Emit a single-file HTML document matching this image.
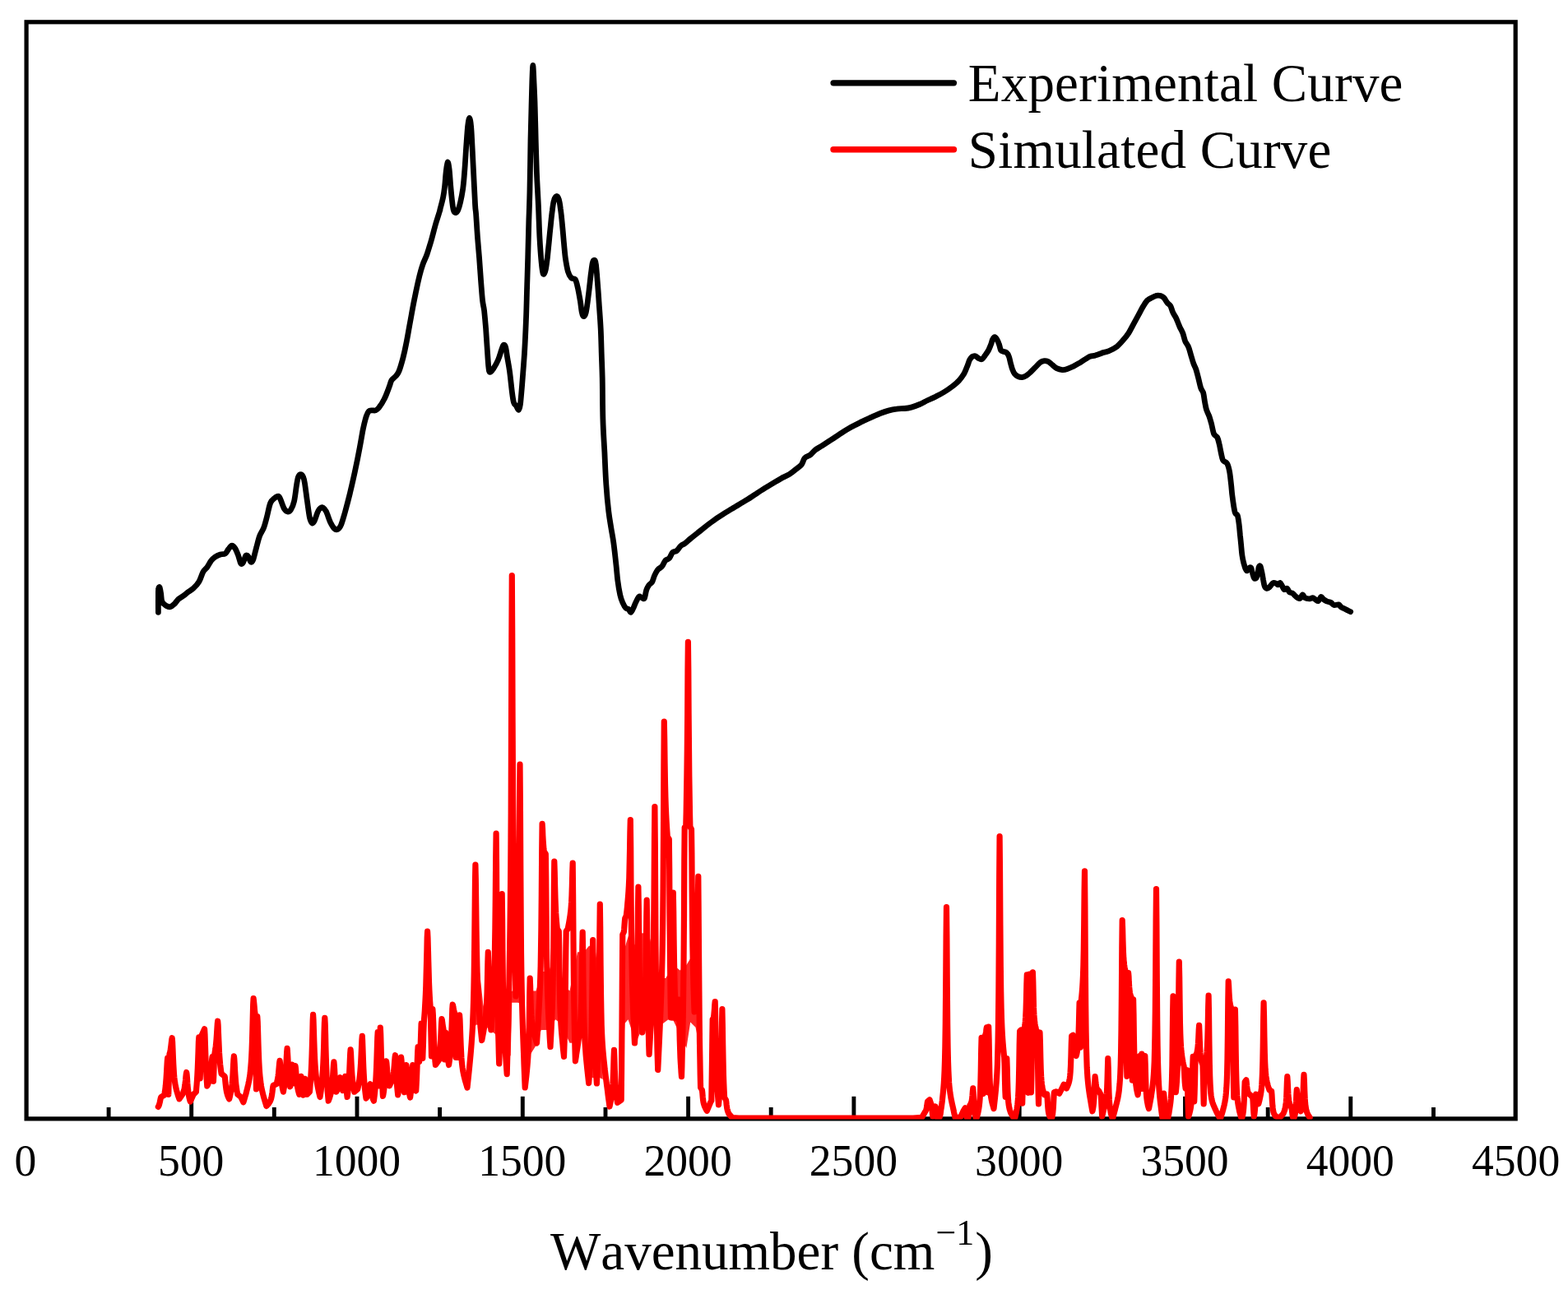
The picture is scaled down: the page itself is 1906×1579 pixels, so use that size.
<!DOCTYPE html>
<html lang="en"><head><meta charset="utf-8"><title>Experimental and simulated spectra</title>
<style>
html,body{margin:0;padding:0;background:#fff;}
body{width:1906px;height:1579px;overflow:hidden;}
svg{display:block;}
text{font-family:"Liberation Serif","Times New Roman",serif;fill:#000;font-kerning:none;}
.tick text{font-size:55.5px;text-anchor:middle;}
.leg text{font-size:65px;letter-spacing:0.2px;}
</style></head><body>
<svg xmlns="http://www.w3.org/2000/svg" width="1906" height="1579" viewBox="0 0 1906 1579">
<rect x="0" y="0" width="1906" height="1579" fill="#fff"/>
<rect x="32.1" y="26.8" width="1810.1" height="1333.1" fill="none" stroke="#000" stroke-width="5.2"/>
<g stroke="#000" stroke-width="4.9" stroke-linecap="butt"><line x1="132.1" y1="1346.0" x2="132.1" y2="1359.9"/><line x1="232.7" y1="1332.8" x2="232.7" y2="1359.9"/><line x1="333.3" y1="1346.0" x2="333.3" y2="1359.9"/><line x1="434.0" y1="1332.8" x2="434.0" y2="1359.9"/><line x1="534.6" y1="1346.0" x2="534.6" y2="1359.9"/><line x1="635.3" y1="1332.8" x2="635.3" y2="1359.9"/><line x1="736.0" y1="1346.0" x2="736.0" y2="1359.9"/><line x1="836.6" y1="1332.8" x2="836.6" y2="1359.9"/><line x1="937.2" y1="1346.0" x2="937.2" y2="1359.9"/><line x1="1037.9" y1="1332.8" x2="1037.9" y2="1359.9"/><line x1="1138.6" y1="1346.0" x2="1138.6" y2="1359.9"/><line x1="1239.2" y1="1332.8" x2="1239.2" y2="1359.9"/><line x1="1339.9" y1="1346.0" x2="1339.9" y2="1359.9"/><line x1="1440.5" y1="1332.8" x2="1440.5" y2="1359.9"/><line x1="1541.2" y1="1346.0" x2="1541.2" y2="1359.9"/><line x1="1641.8" y1="1332.8" x2="1641.8" y2="1359.9"/><line x1="1742.5" y1="1346.0" x2="1742.5" y2="1359.9"/></g>
<path d="M192.4 744.3C192.4 741.4 192.3 732.0 192.4 727.3C192.4 722.6 192.3 718.6 192.6 716.3C192.8 714.1 193.5 712.9 194.0 713.7C194.5 714.6 195.1 718.4 195.6 721.3C196.1 724.2 195.9 728.8 197.0 731.3C198.0 733.8 200.3 735.2 201.9 736.3C203.6 737.3 205.3 738.0 206.9 737.7C208.6 737.3 210.3 735.8 211.9 734.3C213.6 732.7 215.1 730.0 216.9 728.3C218.7 726.6 221.1 725.6 222.9 724.3C224.7 723.0 225.9 721.8 227.9 720.3C229.9 718.8 232.5 717.5 234.9 715.3C237.2 713.2 239.8 710.7 241.8 707.3C243.8 704.0 245.2 698.4 246.8 695.4C248.5 692.4 250.1 691.7 251.8 689.4C253.5 687.1 255.1 683.5 256.8 681.4C258.5 679.3 260.0 678.1 261.8 676.8C263.6 675.6 265.8 674.7 267.8 674.0C269.8 673.4 272.1 674.1 273.8 673.0C275.4 671.9 276.4 669.1 277.7 667.5C279.1 665.8 280.4 663.2 281.7 663.1C283.1 662.9 284.4 664.4 285.7 666.5C287.1 668.5 288.5 672.3 289.7 675.4C290.9 678.5 291.7 683.7 292.7 685.0C293.7 686.3 294.7 685.0 295.7 683.4C296.7 681.8 297.7 676.6 298.7 675.4C299.7 674.3 300.7 675.2 301.7 676.4C302.7 677.7 303.7 682.3 304.7 683.0C305.7 683.7 306.5 683.3 307.7 680.4C308.8 677.5 310.3 670.3 311.7 665.5C313.0 660.6 314.1 655.5 315.6 651.5C317.1 647.5 319.1 645.5 320.6 641.5C322.1 637.5 323.3 632.5 324.6 627.6C325.9 622.6 327.1 615.3 328.6 611.6C330.1 607.9 331.9 607.0 333.6 605.6C335.3 604.2 337.3 602.7 338.6 603.2C339.9 603.7 340.4 606.0 341.6 608.6C342.7 611.2 344.2 616.4 345.6 618.6C346.9 620.8 348.2 621.8 349.6 622.0C350.9 622.1 352.2 621.6 353.5 619.6C354.9 617.5 356.4 614.6 357.5 609.6C358.7 604.6 359.7 594.6 360.5 589.7C361.4 584.7 361.7 581.8 362.5 579.7C363.4 577.5 364.5 576.7 365.5 576.7C366.5 576.7 367.7 577.9 368.5 579.7C369.3 581.5 369.7 582.7 370.5 587.7C371.3 592.7 372.5 602.6 373.5 609.6C374.5 616.6 375.5 625.2 376.5 629.6C377.5 633.9 378.5 635.4 379.5 635.9C380.5 636.4 381.3 634.9 382.5 632.5C383.6 630.2 385.3 624.1 386.5 621.6C387.6 619.1 388.5 618.3 389.4 617.6C390.4 616.8 391.3 616.3 392.4 617.0C393.6 617.7 394.9 618.6 396.4 621.6C397.9 624.5 399.8 631.0 401.4 634.5C403.1 638.0 404.9 641.0 406.4 642.5C407.9 644.0 409.1 644.2 410.4 643.5C411.7 642.9 412.9 642.0 414.4 638.5C415.9 635.0 417.5 629.1 419.4 622.6C421.2 616.1 423.4 607.8 425.4 599.6C427.3 591.5 429.3 583.0 431.3 573.7C433.3 564.4 435.7 552.4 437.3 543.8C439.0 535.1 440.0 528.2 441.3 521.8C442.6 515.5 444.1 509.5 445.3 505.9C446.5 502.2 447.1 501.1 448.3 499.9C449.5 498.7 451.0 499.1 452.3 498.9C453.6 498.7 454.9 499.4 456.3 498.9C457.6 498.4 458.4 498.2 460.3 495.9C462.1 493.6 465.1 489.3 467.2 484.9C469.4 480.6 471.8 473.7 473.2 470.0C474.7 466.2 474.6 464.5 475.9 462.4C477.2 460.3 479.4 459.2 480.9 457.4C482.4 455.6 483.4 455.1 484.9 451.4C486.4 447.8 488.3 441.1 489.8 435.5C491.3 429.8 492.5 424.2 493.8 417.5C495.2 410.9 496.5 402.9 497.8 395.6C499.2 388.3 500.5 380.6 501.8 373.6C503.1 366.6 504.5 360.0 505.8 353.7C507.1 347.4 508.5 341.0 509.8 335.7C511.1 330.4 512.3 326.1 513.8 321.8C515.3 317.4 517.1 314.4 518.8 309.8C520.4 305.1 521.9 300.1 523.8 293.8C525.6 287.5 527.9 278.2 529.7 271.9C531.6 265.6 533.9 258.7 534.7 255.9C535.6 253.2 534.1 258.2 534.7 255.5C535.4 252.7 537.7 244.5 538.7 239.5C539.7 234.5 540.1 230.5 540.7 225.5C541.3 220.6 541.5 214.3 542.1 209.6C542.7 204.9 543.4 197.9 544.1 197.2C544.8 196.5 545.5 200.9 546.1 205.6C546.7 210.3 547.1 218.9 547.7 225.5C548.3 232.2 549.1 240.5 549.7 245.5C550.3 250.5 550.6 253.3 551.3 255.5C551.9 257.6 552.8 258.5 553.7 258.5C554.6 258.5 555.7 257.6 556.7 255.5C557.7 253.3 558.7 249.8 559.7 245.5C560.7 241.2 561.8 235.5 562.7 229.5C563.5 223.5 564.0 217.9 564.6 209.6C565.3 201.3 566.0 189.0 566.6 179.7C567.3 170.3 568.0 159.8 568.6 153.7C569.3 147.7 570.0 143.4 570.6 143.4C571.3 143.4 572.1 148.0 572.6 153.7C573.2 159.4 573.5 168.4 574.0 177.7C574.5 187.0 575.0 197.6 575.6 209.6C576.2 221.5 577.1 241.1 577.6 249.5C578.1 257.9 578.1 253.2 578.6 259.9C579.1 266.6 579.9 280.9 580.6 289.8C581.3 298.8 581.9 305.1 582.6 313.8C583.3 322.4 583.9 333.1 584.6 341.7C585.3 350.3 585.9 359.7 586.6 365.6C587.3 371.6 587.9 372.0 588.6 377.6C589.2 383.3 589.9 390.9 590.6 399.6C591.2 408.2 592.0 421.5 592.6 429.5C593.1 437.5 593.5 443.6 594.0 447.4C594.5 451.3 594.6 452.2 595.6 452.4C596.5 452.6 597.9 450.9 599.6 448.4C601.2 445.9 603.9 441.3 605.5 437.5C607.2 433.6 608.5 428.5 609.5 425.5C610.6 422.5 611.1 420.2 611.9 419.5C612.8 418.8 613.7 419.2 614.5 421.5C615.3 423.8 615.7 428.5 616.5 433.5C617.3 438.5 618.5 444.1 619.5 451.4C620.5 458.7 621.7 471.0 622.5 477.3C623.3 483.7 623.7 486.7 624.5 489.3C625.3 492.0 626.5 491.8 627.5 493.3C628.5 494.8 629.6 498.6 630.5 498.3C631.3 498.0 631.8 496.1 632.5 491.3C633.1 486.5 633.6 479.7 634.5 469.4C635.3 459.1 636.6 442.8 637.5 429.5C638.3 416.2 638.9 402.9 639.4 389.6C640.0 376.3 640.2 363.0 640.6 349.7C641.0 336.4 641.5 323.1 641.8 309.8C642.2 296.5 642.5 283.2 642.8 269.9C643.2 256.6 643.7 246.7 644.0 230.0C644.4 213.3 644.7 186.4 645.0 169.7C645.4 153.0 645.7 141.4 646.0 129.8C646.3 118.2 646.5 108.2 646.8 99.9C647.1 91.5 647.5 79.5 647.8 79.5C648.2 79.5 648.6 91.5 649.0 99.9C649.4 108.2 649.9 118.2 650.2 129.8C650.6 141.4 650.9 156.4 651.2 169.7C651.6 183.0 651.9 196.3 652.4 209.6C652.9 222.9 653.8 236.2 654.4 249.5C655.0 262.8 655.4 278.4 656.0 289.4C656.6 300.3 657.2 308.7 657.8 315.3C658.4 322.0 658.9 326.3 659.4 329.3C659.9 332.3 660.3 333.6 661.0 333.3C661.7 332.9 662.7 330.6 663.4 327.3C664.1 323.9 664.7 319.0 665.4 313.3C666.0 307.7 666.7 300.0 667.4 293.4C668.0 286.7 668.7 279.7 669.4 273.4C670.0 267.1 670.7 260.4 671.4 255.5C672.0 250.5 672.5 246.3 673.4 243.5C674.2 240.7 675.4 238.7 676.4 238.5C677.3 238.3 678.5 240.0 679.3 242.5C680.2 245.0 680.7 248.6 681.3 253.5C682.0 258.3 682.7 264.7 683.3 271.4C684.0 278.1 684.7 286.8 685.3 293.8C686.0 300.9 686.5 307.8 687.3 313.8C688.2 319.8 689.2 325.7 690.3 329.7C691.5 333.7 692.8 336.1 694.3 337.7C695.8 339.4 698.0 337.7 699.3 339.7C700.6 341.7 701.3 345.4 702.3 349.7C703.3 354.0 704.4 360.7 705.3 365.6C706.1 370.6 706.6 376.4 707.3 379.6C707.9 382.8 708.4 384.6 709.3 384.6C710.1 384.6 711.3 383.8 712.3 379.6C713.3 375.5 714.3 367.3 715.2 359.7C716.2 352.0 717.4 340.4 718.2 333.7C719.1 327.1 719.6 322.7 720.2 319.8C720.9 316.8 721.6 316.2 722.2 316.2C722.9 316.2 723.6 315.5 724.2 319.8C724.9 324.0 725.6 333.4 726.2 341.7C726.9 350.0 727.6 360.0 728.2 369.6C728.9 379.3 729.7 389.6 730.2 399.6C730.7 409.5 730.9 419.5 731.2 429.5C731.5 439.4 731.9 446.0 732.2 459.4C732.5 472.8 732.4 494.8 732.9 509.9C733.3 525.0 734.2 536.5 734.9 549.8C735.5 563.1 736.0 577.7 736.9 589.7C737.7 601.7 738.8 613.0 739.8 621.6C740.8 630.2 741.8 635.2 742.8 641.5C743.8 647.9 744.8 652.2 745.8 659.5C746.8 666.8 748.0 677.8 748.8 685.4C749.7 693.1 750.0 699.1 750.8 705.4C751.6 711.7 752.8 718.8 753.8 723.3C754.8 727.8 755.6 729.7 756.8 732.3C758.0 735.0 759.6 738.0 760.8 739.3C762.0 740.6 762.8 739.5 763.8 740.3C764.8 741.1 765.8 744.4 766.8 744.3C767.8 744.1 768.8 741.3 769.8 739.3C770.8 737.3 771.6 734.6 772.8 732.3C773.9 730.0 775.6 726.3 776.7 725.3C777.9 724.3 778.6 726.0 779.7 726.3C780.8 726.7 782.3 728.8 783.3 727.3C784.3 725.8 784.8 720.0 785.7 717.3C786.6 714.7 787.6 713.0 788.7 711.4C789.9 709.7 791.5 709.4 792.7 707.4C793.9 705.4 794.5 701.9 795.7 699.4C796.9 696.9 798.2 694.2 799.7 692.4C801.2 690.6 803.2 690.3 804.7 688.4C806.2 686.6 807.2 683.1 808.7 681.4C810.2 679.8 812.2 680.1 813.6 678.5C815.1 676.8 816.1 673.0 817.6 671.5C819.1 670.0 821.0 670.8 822.6 669.5C824.3 668.1 825.9 665.0 827.6 663.5C829.3 662.0 830.6 662.0 832.6 660.5C834.6 659.0 836.8 656.8 839.6 654.5C842.4 652.2 846.2 649.2 849.6 646.5C852.9 643.9 856.2 641.1 859.5 638.6C862.9 636.0 866.2 633.5 869.5 631.2C872.8 628.8 876.2 626.7 879.5 624.6C882.8 622.5 886.1 620.6 889.4 618.6C892.8 616.6 896.1 614.6 899.4 612.6C902.7 610.6 906.1 608.7 909.4 606.6C912.7 604.5 916.0 602.2 919.4 600.1C922.7 597.9 926.0 595.7 929.3 593.7C932.7 591.6 936.0 589.7 939.3 587.7C942.6 585.7 946.0 583.5 949.3 581.7C952.6 579.9 956.3 578.5 959.3 576.7C962.3 574.9 964.8 572.7 967.2 570.7C969.7 568.7 972.4 567.1 974.2 564.8C976.1 562.4 976.4 558.8 978.2 556.8C980.0 554.8 983.0 554.4 985.2 552.8C987.4 551.1 988.9 548.6 991.2 546.8C993.5 545.0 996.2 543.7 999.2 541.8C1002.2 539.9 1005.8 537.6 1009.1 535.4C1012.5 533.3 1015.8 531.0 1019.1 528.8C1022.4 526.7 1025.8 524.3 1029.1 522.3C1032.4 520.3 1037.2 517.8 1039.1 516.9C1040.9 515.9 1038.2 517.3 1040.0 516.4C1041.8 515.5 1046.6 513.0 1050.0 511.4C1053.3 509.8 1056.6 508.4 1059.9 506.9C1063.3 505.4 1066.6 503.8 1069.9 502.5C1073.2 501.2 1076.6 500.0 1079.9 499.1C1083.2 498.2 1086.5 497.5 1089.9 497.1C1093.2 496.6 1096.9 496.8 1099.8 496.5C1102.8 496.2 1104.8 495.9 1107.8 495.1C1110.8 494.3 1114.5 492.9 1117.8 491.5C1121.1 490.1 1124.4 488.1 1127.8 486.5C1131.1 484.9 1134.4 483.6 1137.7 481.9C1141.1 480.3 1144.4 478.6 1147.7 476.5C1151.0 474.5 1154.7 471.9 1157.7 469.6C1160.7 467.2 1163.3 465.1 1165.7 462.6C1168.0 460.1 1170.0 457.4 1171.7 454.6C1173.3 451.8 1174.5 448.4 1175.6 445.6C1176.8 442.8 1177.6 439.6 1178.6 437.6C1179.6 435.6 1180.5 434.5 1181.6 433.6C1182.8 432.8 1184.3 432.3 1185.6 432.7C1186.9 433.0 1188.3 435.0 1189.6 435.6C1190.9 436.3 1192.3 437.3 1193.6 436.6C1194.9 436.0 1196.3 433.5 1197.6 431.7C1198.9 429.8 1200.4 427.8 1201.6 425.7C1202.7 423.5 1203.7 420.8 1204.6 418.7C1205.4 416.5 1205.8 414.2 1206.6 412.7C1207.3 411.2 1208.3 409.7 1209.2 409.7C1210.1 409.7 1211.0 411.2 1211.9 412.7C1212.8 414.2 1213.8 416.5 1214.5 418.7C1215.3 420.8 1215.7 424.2 1216.5 425.7C1217.4 427.1 1218.4 426.8 1219.5 427.3C1220.7 427.8 1222.4 427.6 1223.5 428.7C1224.7 429.7 1225.7 431.5 1226.5 433.6C1227.3 435.8 1227.8 439.1 1228.5 441.6C1229.2 444.1 1229.7 446.4 1230.5 448.6C1231.3 450.8 1232.3 453.1 1233.5 454.6C1234.7 456.1 1236.0 456.9 1237.5 457.6C1239.0 458.3 1240.8 458.7 1242.5 458.6C1244.1 458.4 1245.8 457.6 1247.5 456.6C1249.1 455.6 1250.6 454.3 1252.4 452.6C1254.3 450.9 1256.4 448.6 1258.4 446.6C1260.4 444.6 1262.6 442.0 1264.4 440.6C1266.2 439.3 1267.7 438.8 1269.4 438.6C1271.1 438.5 1272.7 438.8 1274.4 439.6C1276.0 440.5 1277.7 442.3 1279.4 443.6C1281.0 445.0 1282.4 446.6 1284.4 447.6C1286.4 448.6 1289.2 449.4 1291.3 449.6C1293.5 449.8 1295.2 449.3 1297.3 448.6C1299.5 447.9 1302.0 446.8 1304.3 445.6C1306.6 444.5 1308.8 443.1 1311.3 441.6C1313.8 440.1 1316.9 438.0 1319.3 436.6C1321.6 435.2 1323.3 434.0 1325.2 433.2C1327.2 432.5 1328.9 432.7 1331.2 432.1C1333.6 431.4 1337.8 429.8 1339.2 429.3C1340.7 428.7 1338.5 429.2 1340.0 428.7C1341.5 428.3 1345.2 427.9 1348.0 426.7C1350.8 425.6 1354.1 423.9 1357.0 421.8C1359.8 419.6 1362.4 416.6 1364.9 413.8C1367.4 411.0 1369.8 408.1 1371.9 404.8C1374.1 401.5 1375.9 397.5 1377.9 393.8C1379.9 390.2 1381.9 386.5 1383.9 382.9C1385.9 379.2 1388.0 374.9 1389.9 371.9C1391.7 368.9 1393.0 366.6 1394.9 364.9C1396.7 363.2 1399.0 362.4 1400.8 361.5C1402.7 360.6 1404.2 359.7 1405.8 359.3C1407.5 359.0 1409.3 359.1 1410.8 359.5C1412.3 360.0 1413.5 360.5 1414.8 361.9C1416.1 363.3 1417.5 366.2 1418.8 367.9C1420.1 369.6 1421.6 369.9 1422.8 371.9C1423.9 373.9 1424.6 377.4 1425.8 379.9C1426.9 382.4 1428.4 384.0 1429.8 386.9C1431.1 389.7 1432.4 393.8 1433.8 396.8C1435.1 399.8 1436.6 401.8 1437.7 404.8C1438.9 407.8 1439.6 412.0 1440.7 414.8C1441.9 417.6 1443.6 418.9 1444.7 421.8C1445.9 424.6 1446.7 428.4 1447.7 431.7C1448.7 435.1 1449.7 438.9 1450.7 441.7C1451.7 444.5 1452.7 445.7 1453.7 448.7C1454.7 451.7 1455.7 455.8 1456.7 459.7C1457.7 463.5 1458.7 468.6 1459.7 471.6C1460.7 474.6 1461.8 474.6 1462.7 477.6C1463.5 480.6 1464.0 486.1 1464.7 489.6C1465.3 493.1 1465.8 495.9 1466.7 498.6C1467.5 501.2 1468.7 502.7 1469.7 505.5C1470.7 508.4 1471.7 511.9 1472.7 515.5C1473.6 519.2 1474.5 524.8 1475.6 527.5C1476.8 530.1 1478.6 529.5 1479.6 531.5C1480.7 533.5 1481.3 536.5 1482.0 539.4C1482.8 542.4 1483.3 546.1 1484.0 549.4C1484.8 552.7 1485.4 557.1 1486.6 559.4C1487.9 561.7 1490.3 561.1 1491.6 563.4C1492.9 565.7 1493.8 569.0 1494.6 573.4C1495.4 577.7 1496.0 584.3 1496.6 589.3C1497.2 594.3 1497.2 597.7 1498.0 603.3C1498.7 608.8 1500.1 618.8 1501.1 622.7C1502.2 626.6 1503.4 623.9 1504.3 626.5C1505.1 629.0 1505.7 633.8 1506.2 637.8C1506.7 641.8 1507.0 646.2 1507.4 650.4C1507.9 654.6 1508.3 658.8 1508.7 663.0C1509.1 667.2 1509.4 672.1 1510.0 675.6C1510.5 679.2 1511.2 681.9 1511.8 684.5C1512.5 687.0 1513.1 689.2 1513.7 690.8C1514.4 692.3 1514.9 693.9 1515.6 693.9C1516.4 693.9 1517.3 691.4 1518.2 690.8C1519.0 690.1 1519.9 689.1 1520.7 690.1C1521.4 691.2 1521.9 695.0 1522.6 697.1C1523.2 699.2 1523.7 701.8 1524.5 702.7C1525.2 703.7 1526.2 703.7 1527.0 702.7C1527.7 701.8 1528.3 699.3 1528.9 697.1C1529.4 694.9 1529.6 691.0 1530.1 689.5C1530.7 688.0 1531.4 687.2 1532.0 688.2C1532.6 689.3 1533.3 693.1 1533.9 695.8C1534.5 698.5 1535.0 701.9 1535.5 704.6C1536.1 707.4 1536.4 710.4 1537.1 712.2C1537.7 714.0 1538.6 715.0 1539.6 715.3C1540.5 715.7 1541.8 714.8 1542.7 714.1C1543.7 713.3 1544.4 711.9 1545.3 710.9C1546.1 710.0 1546.8 708.7 1547.8 708.4C1548.7 708.1 1550.0 708.6 1550.9 709.0C1551.9 709.5 1552.6 711.0 1553.4 710.9C1554.3 710.8 1555.1 708.2 1556.0 708.4C1556.8 708.6 1557.6 710.8 1558.5 712.2C1559.3 713.6 1560.0 716.1 1561.0 716.6C1562.1 717.1 1563.7 714.8 1564.8 715.3C1565.8 715.9 1566.3 718.8 1567.3 719.7C1568.4 720.7 1569.9 720.3 1571.1 721.0C1572.2 721.7 1573.2 723.2 1574.2 724.2C1575.3 725.1 1576.3 726.2 1577.4 726.7C1578.4 727.2 1579.5 727.9 1580.5 727.3C1581.6 726.7 1582.5 723.0 1583.4 722.9C1584.4 722.8 1584.9 725.8 1586.2 726.7C1587.5 727.5 1589.7 727.9 1591.3 727.9C1592.8 727.9 1594.4 726.6 1595.7 726.7C1596.9 726.8 1597.7 727.9 1598.8 728.6C1600.0 729.2 1601.4 731.0 1602.6 730.5C1603.8 729.9 1604.7 725.7 1605.8 725.4C1606.8 725.1 1607.6 727.6 1608.9 728.6C1610.2 729.5 1611.8 730.5 1613.3 731.1C1614.8 731.7 1616.4 731.6 1617.7 732.4C1619.1 733.1 1619.9 735.1 1621.5 735.5C1623.1 735.9 1625.7 734.5 1627.2 734.9C1628.7 735.3 1629.0 737.1 1630.3 738.0C1631.7 739.0 1633.5 739.6 1635.4 740.5C1637.3 741.5 1640.6 743.2 1641.7 743.7" fill="none" stroke="#000" stroke-width="6.8" stroke-linejoin="round" stroke-linecap="round"/>
<clipPath id="plot"><rect x="32.1" y="26.8" width="1810.1" height="1333.8"/></clipPath>
<g clip-path="url(#plot)">
<path d="M575.0 1141.5L582.1 1173.1L587.6 1223.6L592.3 1188.9L597.9 1181.0L607.3 1157.3L615.2 1207.8L623.1 1204.6L631.0 1188.9L634.1 1212.5L634.1 1220.4L629.4 1218.8L622.3 1218.8L620.7 1283.5L610.5 1277.2L601.8 1256.7L591.5 1248.8L578.9 1245.6L575.0 1252.0ZM641.2 1252.0L642.8 1236.2L646.8 1204.6L651.5 1204.6L659.4 1181.0L667.3 1181.0L676.7 1149.4L684.6 1196.8L692.5 1204.6L702.0 1157.3L709.8 1157.3L716.2 1149.4L724.0 1157.3L730.3 1204.6L732.7 1267.7L732.7 1311.9L729.6 1310.3L720.9 1310.3L713.8 1307.2L710.6 1239.3L703.5 1267.7L692.5 1267.7L681.5 1244.1L675.1 1239.3L667.3 1252.0L657.8 1252.0L651.5 1270.9L643.6 1283.5L641.2 1283.5ZM756.4 1252.0L757.9 1157.3L765.0 1133.7L770.6 1149.4L780.8 1133.7L790.3 1141.5L799.7 1188.9L809.2 1188.9L818.7 1173.1L826.6 1179.4L834.4 1173.1L843.9 1157.3L849.4 1157.3L849.4 1267.7L845.5 1248.8L839.2 1242.5L834.4 1274.0L818.7 1240.9L812.4 1239.3L806.1 1244.1L793.4 1226.7L782.4 1247.2L777.7 1256.7L772.9 1267.7L763.5 1239.3L759.5 1244.1L756.4 1299.3Z" fill="#ff0000" fill-opacity="0.85" stroke="none"/>
<path d="M192.3 1345.4L192.7 1344.6L193.1 1343.8L193.5 1342.8L193.8 1341.6L194.2 1340.1L194.6 1338.3L195.0 1336.3L195.4 1334.5L195.8 1333.5L199.7 1331.1L200.1 1328.9L200.5 1326.3L200.9 1323.4L201.3 1320.0L201.7 1315.7L202.1 1310.5L202.5 1304.0L202.9 1296.7L203.3 1289.9L203.7 1286.2L204.1 1298.3L204.4 1316.1L204.8 1330.4L205.2 1314.6L205.6 1294.9L206.0 1281.5L206.4 1280.0L206.8 1278.2L207.2 1276.1L207.6 1273.6L208.0 1270.4L208.4 1266.9L208.8 1263.6L209.2 1261.7L209.6 1266.2L210.0 1275.3L210.4 1285.3L210.8 1293.8L211.2 1300.6L211.5 1305.9L211.9 1310.1L212.3 1313.4L212.7 1316.2L213.1 1318.5L213.5 1320.6L213.9 1322.4L214.3 1324.1L214.7 1325.7L215.1 1327.1L215.5 1328.5L215.9 1329.8L216.3 1331.1L216.7 1332.3L217.1 1333.5L217.5 1334.7L217.9 1335.9L221.8 1330.3L222.2 1329.5L222.6 1328.5L222.9 1327.4L223.3 1326.3L223.7 1324.9L224.1 1323.4L224.4 1321.5L224.8 1319.2L225.2 1316.3L225.6 1312.8L225.9 1308.9L226.3 1305.4L226.7 1303.5L227.1 1306.1L227.5 1311.0L227.8 1316.3L228.2 1321.1L228.6 1325.0L229.0 1328.1L229.4 1330.7L229.7 1332.8L230.1 1334.6L230.5 1336.2L230.9 1337.7L231.3 1339.0L235.2 1330.3L238.4 1327.2L238.7 1323.1L239.1 1318.5L239.5 1312.9L239.9 1306.3L240.3 1298.1L240.7 1288.1L241.1 1276.9L241.4 1266.6L241.8 1260.9L242.2 1270.0L242.5 1284.9L242.9 1299.3L243.2 1311.0L243.6 1299.0L244.0 1284.1L244.3 1268.7L244.7 1259.4L248.6 1250.7L249.0 1257.1L249.4 1268.8L249.8 1281.3L250.2 1292.4L250.6 1301.4L251.0 1308.8L251.4 1314.9L251.8 1320.1L252.2 1319.2L252.6 1318.4L252.9 1317.4L253.3 1316.4L253.7 1315.4L254.1 1314.2L254.5 1312.9L254.9 1311.3L255.3 1309.5L255.7 1307.3L256.1 1304.6L256.5 1301.0L256.9 1296.7L257.3 1291.6L257.7 1287.0L258.1 1284.6L258.4 1290.0L258.7 1298.8L259.1 1307.4L259.4 1314.3L259.8 1306.6L260.1 1297.2L260.4 1287.4L260.8 1281.5L261.2 1279.4L261.5 1277.2L261.9 1274.6L262.3 1271.5L262.7 1267.7L263.1 1263.0L263.5 1257.2L263.9 1250.6L264.3 1244.5L264.7 1241.2L265.1 1245.7L265.4 1254.1L265.8 1263.5L266.2 1272.1L266.5 1279.2L266.9 1284.9L267.3 1289.7L267.6 1293.6L268.0 1297.0L268.4 1300.0L268.7 1302.7L269.1 1305.1L273.1 1308.3L273.5 1310.2L273.8 1313.9L274.2 1318.0L274.6 1321.5L275.0 1324.4L275.4 1326.6L275.8 1328.4L276.2 1329.9L276.6 1331.2L277.0 1332.3L277.4 1333.3L277.8 1334.2L278.2 1335.1L278.6 1335.9L279.0 1334.5L279.4 1333.1L279.7 1331.5L280.1 1329.9L280.5 1328.0L280.9 1326.0L281.3 1323.7L281.7 1320.9L282.1 1317.6L282.5 1313.4L282.9 1308.1L283.2 1301.6L283.6 1294.1L284.0 1287.3L284.4 1283.8L284.8 1287.0L285.2 1293.2L285.5 1300.1L285.9 1306.3L286.3 1311.5L286.6 1315.7L287.0 1319.1L287.4 1322.0L287.7 1324.4L288.1 1326.6L288.5 1328.6L288.8 1330.3L292.8 1333.5L295.9 1339.8L296.3 1338.5L296.7 1337.2L297.1 1335.8L297.5 1334.5L297.9 1333.1L298.3 1331.8L298.7 1330.4L299.1 1329.0L299.5 1327.5L299.8 1326.1L300.2 1324.6L300.6 1323.0L301.0 1321.4L301.4 1319.7L301.8 1318.0L302.2 1316.1L302.6 1314.2L303.0 1312.0L303.4 1309.7L303.8 1307.0L304.2 1304.0L304.5 1300.6L304.9 1296.4L305.3 1291.2L305.7 1284.7L306.1 1276.3L306.5 1265.3L306.9 1251.4L307.3 1235.3L307.7 1220.6L308.1 1213.6L308.4 1215.8L308.8 1219.7L309.2 1224.1L309.5 1228.0L309.9 1231.4L310.3 1234.1L310.6 1250.4L310.9 1277.2L311.2 1303.0L311.5 1324.0L311.9 1303.4L312.2 1278.0L312.5 1251.7L312.8 1235.7L313.2 1241.9L313.6 1254.8L314.0 1269.0L314.4 1281.1L314.8 1290.7L315.2 1298.0L315.6 1303.8L316.0 1308.3L316.4 1312.0L316.8 1315.2L317.1 1317.8L317.5 1320.2L317.9 1322.3L318.3 1324.3L318.7 1326.1L319.1 1327.8L319.5 1329.4L319.9 1331.0L320.3 1332.5L320.7 1333.9L321.1 1335.3L321.5 1336.7L321.9 1338.1L322.3 1339.4L322.7 1340.7L323.1 1342.0L323.5 1343.3L323.8 1344.5L324.2 1344.1L324.6 1343.7L325.0 1343.3L325.4 1342.8L325.8 1342.4L326.2 1341.9L326.6 1341.4L327.0 1340.8L327.4 1340.2L327.8 1339.6L328.2 1338.9L328.6 1338.1L329.0 1337.1L329.4 1336.0L329.8 1334.5L330.2 1332.7L330.6 1330.4L331.0 1327.5L331.4 1324.0L331.8 1320.9L332.2 1319.3L336.2 1317.7L336.5 1316.3L336.9 1314.7L337.3 1312.9L337.7 1310.7L338.1 1308.0L338.5 1304.7L338.9 1300.6L339.3 1296.0L339.7 1291.7L340.1 1289.3L340.5 1292.2L340.9 1297.7L341.3 1303.6L341.6 1308.8L342.0 1313.1L342.4 1316.6L342.8 1319.4L343.2 1321.7L343.6 1323.8L344.0 1325.6L344.4 1327.2L344.7 1325.2L345.1 1323.1L345.5 1320.8L345.9 1318.1L346.3 1315.0L346.7 1311.3L347.1 1306.7L347.5 1301.0L347.9 1293.9L348.3 1285.8L348.7 1278.3L349.1 1274.4L349.4 1277.9L349.8 1284.4L350.2 1291.7L350.5 1298.4L350.9 1304.0L351.3 1308.6L351.6 1312.4L352.0 1315.6L352.4 1318.4L352.7 1320.9L353.1 1317.4L353.5 1313.2L353.9 1308.2L354.3 1302.4L354.7 1297.1L355.1 1294.1L355.5 1297.1L355.9 1302.3L356.3 1307.8L356.7 1312.8L357.1 1316.9L357.4 1313.0L357.8 1308.5L358.2 1303.3L358.6 1298.4L359.0 1295.6L359.4 1298.2L359.8 1303.2L360.2 1308.5L360.6 1313.2L361.0 1316.9L361.4 1319.9L361.8 1322.4L362.2 1324.4L362.6 1326.1L363.0 1327.7L363.4 1329.1L363.8 1330.3L364.1 1327.5L364.5 1324.1L364.9 1319.9L365.3 1315.2L365.7 1310.8L366.1 1308.3L366.5 1310.9L366.9 1315.4L367.3 1320.3L367.7 1324.6L368.1 1328.2L368.5 1331.1L368.9 1328.6L369.3 1325.5L369.7 1321.8L370.1 1317.6L370.5 1313.7L370.9 1311.4L371.2 1313.6L371.6 1317.3L372.0 1321.4L372.4 1325.0L372.8 1327.9L373.2 1330.3L376.4 1327.2L376.8 1323.1L377.1 1318.7L377.5 1313.6L377.9 1307.8L378.3 1300.8L378.7 1292.3L379.1 1281.7L379.5 1268.7L379.9 1254.0L380.2 1240.5L380.6 1233.3L381.0 1239.5L381.4 1252.1L381.8 1265.7L382.2 1277.4L382.6 1286.7L383.0 1293.8L383.4 1299.5L383.8 1304.0L384.2 1307.8L384.6 1311.0L385.0 1313.9L385.4 1316.4L385.8 1318.7L386.2 1320.9L386.6 1322.9L387.0 1324.8L387.4 1326.6L387.8 1328.4L388.2 1330.2L388.6 1331.8L389.0 1333.5L389.4 1331.0L389.8 1328.3L390.2 1325.5L390.5 1322.4L390.9 1319.0L391.3 1315.3L391.7 1310.9L392.1 1305.8L392.5 1299.7L392.9 1291.9L393.3 1282.2L393.7 1270.1L394.0 1256.4L394.4 1243.7L394.8 1237.3L395.2 1244.3L395.6 1257.6L395.9 1272.6L396.3 1286.0L396.7 1297.3L397.0 1306.4L397.4 1313.8L397.8 1320.0L398.1 1325.4L398.5 1330.1L398.9 1334.3L399.2 1338.2L399.6 1337.2L400.0 1336.1L400.4 1335.0L400.8 1333.8L401.2 1332.5L401.6 1331.1L402.0 1329.6L402.4 1327.9L402.8 1325.9L403.1 1323.5L403.5 1320.6L403.9 1317.0L404.3 1312.3L404.7 1306.6L405.1 1300.0L405.5 1294.0L405.9 1290.9L406.2 1294.0L406.6 1299.6L406.9 1305.9L407.3 1311.7L407.6 1316.7L408.0 1320.8L408.4 1324.2L408.7 1327.2L409.1 1326.6L409.5 1325.9L409.9 1325.1L410.3 1324.2L410.7 1323.2L411.1 1322.0L411.5 1320.5L411.9 1318.6L412.3 1316.3L412.6 1313.6L413.0 1311.1L413.4 1309.8L413.8 1311.3L414.2 1314.0L414.6 1316.8L415.0 1319.3L415.4 1321.4L415.8 1323.0L416.2 1324.4L416.6 1325.6L417.0 1324.3L417.4 1322.8L417.8 1320.9L418.2 1318.7L418.6 1315.9L419.0 1312.8L419.4 1309.9L419.7 1308.3L420.1 1311.1L420.5 1316.2L420.9 1321.5L421.3 1326.3L421.7 1330.3L422.1 1333.5L422.5 1330.6L422.9 1327.4L423.3 1323.6L423.7 1319.2L424.1 1313.8L424.5 1307.1L424.9 1298.8L425.3 1289.4L425.7 1280.6L426.1 1275.9L426.5 1279.8L426.8 1287.0L427.2 1294.9L427.6 1301.8L428.0 1307.4L428.4 1311.8L428.8 1315.4L429.2 1318.4L429.6 1321.0L430.0 1323.2L430.4 1325.3L430.8 1327.2L434.7 1324.0L435.1 1322.2L435.5 1320.2L435.9 1318.0L436.3 1315.7L436.7 1313.1L437.1 1310.1L437.5 1306.6L437.9 1302.4L438.3 1297.1L438.7 1290.4L439.1 1282.2L439.5 1272.7L439.9 1263.9L440.3 1259.4L440.6 1265.0L441.0 1275.8L441.4 1287.4L441.8 1297.6L442.2 1305.8L442.6 1312.3L443.0 1317.6L443.4 1322.1L443.8 1325.9L444.2 1329.2L444.6 1332.3L445.0 1335.1L445.4 1334.5L445.8 1333.9L446.1 1333.2L446.5 1332.5L446.9 1331.6L447.3 1330.7L447.7 1329.5L448.1 1328.0L448.5 1326.2L448.9 1323.9L449.3 1321.3L449.6 1319.0L450.0 1317.7L450.4 1319.2L450.8 1321.9L451.1 1324.9L451.5 1327.6L451.9 1329.9L452.2 1331.8L452.6 1333.3L453.0 1334.5L453.3 1335.6L453.7 1336.6L454.1 1337.4L454.4 1338.2L454.8 1335.1L455.2 1331.8L455.6 1328.1L456.0 1323.9L456.4 1319.0L456.8 1313.1L457.2 1305.9L457.6 1296.8L458.0 1285.6L458.4 1272.8L458.8 1260.9L459.2 1254.6L459.6 1266.4L460.0 1285.9L460.4 1304.7L460.8 1319.9L461.2 1303.4L461.5 1283.1L461.9 1261.9L462.3 1249.1L462.7 1256.9L463.1 1271.0L463.5 1286.1L463.9 1299.4L464.3 1310.2L464.7 1318.9L465.1 1326.2L465.5 1332.4L465.9 1330.3L466.3 1327.9L466.7 1325.1L467.1 1321.8L467.5 1317.8L467.9 1312.8L468.3 1306.7L468.7 1299.8L469.1 1293.3L469.5 1289.8L469.9 1292.3L470.3 1296.8L470.6 1301.7L471.0 1306.0L471.4 1309.5L471.8 1312.3L472.2 1314.6L472.6 1316.6L473.0 1318.3L473.4 1319.8L473.8 1319.0L474.2 1318.3L474.6 1317.4L475.0 1316.6L475.4 1315.7L475.8 1314.8L476.2 1313.7L476.6 1312.6L477.0 1311.3L477.4 1309.8L477.7 1308.0L478.1 1305.8L478.5 1303.0L478.9 1299.4L479.3 1295.0L479.7 1289.8L480.1 1285.1L480.5 1282.7L480.9 1287.2L481.3 1295.3L481.7 1304.0L482.1 1311.6L482.5 1317.9L482.9 1323.0L483.3 1327.2L483.7 1330.8L484.1 1328.5L484.4 1326.0L484.8 1323.0L485.2 1319.5L485.6 1315.2L486.0 1309.8L486.4 1303.3L486.8 1295.8L487.2 1288.8L487.6 1285.1L488.0 1288.6L488.4 1295.0L488.8 1302.0L489.2 1308.1L489.6 1313.1L490.0 1317.1L490.4 1320.4L490.8 1323.1L491.2 1325.5L491.5 1327.7L491.9 1323.4L492.3 1318.2L492.7 1312.0L493.1 1304.9L493.5 1298.3L493.9 1294.5L494.3 1297.5L494.7 1303.1L495.1 1309.1L495.5 1314.4L495.9 1318.7L496.3 1322.1L496.7 1324.9L497.1 1327.2L497.5 1329.2L497.9 1330.9L498.2 1332.5L498.6 1334.0L499.0 1331.0L499.4 1327.6L499.8 1323.4L500.2 1318.2L500.6 1312.0L501.0 1304.8L501.4 1298.2L501.8 1294.5L502.2 1297.1L502.6 1301.9L503.0 1307.1L503.4 1311.6L503.8 1315.3L504.2 1318.3L504.6 1320.7L505.0 1322.7L505.3 1324.5L505.7 1326.1L506.1 1319.2L506.5 1310.8L506.9 1300.7L507.3 1289.2L507.7 1278.5L508.1 1272.5L508.5 1275.7L508.9 1281.1L509.3 1286.3L509.7 1290.5L510.1 1285.2L510.5 1278.7L510.9 1271.8L511.3 1267.7L512.1 1244.1L512.4 1249.6L512.7 1259.1L513.1 1269.4L513.4 1278.6L513.8 1286.3L514.1 1277.7L514.5 1267.5L514.8 1256.0L515.2 1245.4L515.5 1239.3L515.9 1234.6L516.3 1229.4L516.6 1223.4L517.0 1216.5L517.4 1208.4L517.8 1198.4L518.1 1186.1L518.5 1171.3L518.9 1154.8L519.2 1140.0L519.6 1132.1L520.0 1139.8L520.4 1154.1L520.8 1169.6L521.2 1183.3L521.5 1194.7L521.9 1203.9L522.3 1211.5L522.7 1217.9L523.1 1223.6L523.4 1234.5L523.8 1252.5L524.2 1269.8L524.5 1283.9L524.9 1270.6L525.2 1254.1L525.6 1237.0L525.9 1226.7L526.3 1232.5L526.7 1243.0L527.1 1254.5L527.5 1264.7L527.9 1273.1L528.2 1280.0L528.6 1285.6L529.0 1290.4L529.4 1294.5L533.8 1288.2L534.2 1284.5L534.6 1280.1L535.0 1274.9L535.4 1268.4L535.8 1260.5L536.2 1251.5L536.6 1243.2L537.0 1238.5L537.4 1240.1L537.7 1242.8L538.1 1245.6L538.5 1248.2L538.9 1250.4L539.2 1257.2L539.6 1268.4L539.9 1279.2L540.3 1287.9L540.6 1280.3L541.0 1270.8L541.3 1261.0L541.7 1255.1L542.1 1258.3L542.5 1264.3L542.9 1270.8L543.3 1276.4L543.7 1281.0L544.1 1284.7L544.5 1287.8L544.9 1290.3L545.3 1292.6L545.6 1294.5L546.0 1291.8L546.4 1288.8L546.8 1285.4L547.2 1281.7L547.6 1277.2L547.9 1272.0L548.3 1265.5L548.7 1257.4L549.1 1247.6L549.5 1236.5L549.8 1226.5L550.2 1221.2L550.6 1222.2L550.9 1224.0L551.3 1226.1L551.6 1228.0L552.0 1229.6L552.4 1230.9L552.7 1232.1L553.1 1233.0L553.5 1247.4L553.8 1268.4L554.2 1285.3L554.6 1268.9L555.0 1248.6L555.4 1234.6L555.8 1243.8L556.2 1259.0L556.6 1273.6L557.0 1285.4L557.4 1273.4L557.8 1258.6L558.2 1243.1L558.6 1233.8L559.0 1239.0L559.4 1249.8L559.8 1261.4L560.2 1271.5L560.6 1279.5L560.9 1285.7L561.3 1290.5L561.7 1294.3L562.1 1297.5L562.5 1300.2L562.9 1302.6L563.3 1304.7L563.7 1306.6L564.1 1308.3L564.5 1309.9L564.9 1311.5L565.3 1312.9L565.7 1314.4L566.1 1315.7L566.5 1317.1L566.9 1318.4L567.3 1319.7L567.6 1320.9L568.0 1322.1L568.4 1318.4L568.8 1314.6L569.2 1310.8L569.6 1307.0L570.0 1303.1L570.4 1299.1L570.8 1295.1L571.2 1290.9L571.6 1286.7L572.0 1282.3L572.4 1277.7L572.8 1272.9L573.2 1267.7L573.6 1262.1L574.0 1256.0L574.4 1249.0L574.7 1240.9L575.1 1231.1L575.5 1218.8L575.9 1202.7L576.3 1180.9L576.7 1151.0L577.1 1112.2L577.5 1071.8L577.9 1051.0L578.3 1068.0L578.7 1100.4L579.1 1131.7L579.5 1156.2L579.9 1174.3L580.2 1187.8L580.6 1198.4L581.0 1206.9L581.4 1214.1L581.8 1220.3L582.2 1225.9L582.6 1231.1L583.0 1235.8L583.4 1240.4L583.8 1244.7L584.1 1248.9L584.5 1252.9L584.9 1256.9L585.3 1260.8L585.7 1264.6L586.1 1262.5L586.5 1260.4L586.9 1258.3L587.3 1256.2L587.7 1254.0L588.1 1251.7L588.5 1249.3L588.9 1246.9L589.3 1244.2L589.7 1241.4L590.1 1238.2L590.5 1234.5L590.9 1230.1L591.3 1224.4L591.7 1216.7L592.1 1205.5L592.5 1189.2L592.9 1169.1L593.3 1157.3L593.7 1168.2L594.0 1186.7L594.4 1203.2L594.7 1215.5L595.1 1224.8L595.5 1232.0L595.8 1238.0L596.2 1243.1L596.5 1247.7L596.9 1252.0L597.3 1246.3L597.7 1240.6L598.1 1234.7L598.5 1228.6L598.8 1222.4L599.2 1215.8L599.6 1208.8L600.0 1201.1L600.4 1192.5L600.8 1182.3L601.2 1169.6L601.5 1152.5L601.9 1127.9L602.3 1091.0L602.7 1043.0L603.1 1013.0L603.5 1049.5L603.8 1108.1L604.2 1156.5L604.5 1191.3L604.9 1216.7L605.3 1236.6L605.6 1253.1L606.0 1267.6L606.3 1280.7L606.7 1293.0L607.1 1282.8L607.5 1271.7L607.9 1259.3L608.3 1244.5L608.6 1225.8L609.0 1200.3L609.4 1163.7L609.8 1117.0L610.2 1086.5L610.6 1115.6L611.0 1161.0L611.4 1195.0L611.8 1217.6L612.2 1233.2L612.6 1244.8L613.0 1254.3L613.4 1262.3L613.8 1269.6L614.2 1276.2L614.6 1282.5L615.0 1288.5L615.4 1294.3L615.8 1300.0L616.2 1305.6L616.6 1291.2L617.0 1276.5L617.3 1261.6L617.7 1246.1L618.1 1230.2L618.5 1213.4L618.9 1195.5L619.2 1175.9L619.6 1153.7L620.0 1127.6L620.4 1095.0L620.8 1051.1L621.2 987.9L621.5 894.2L621.9 774.0L622.3 699.5L622.7 769.3L623.1 877.9L623.5 961.5L623.9 1018.3L624.3 1058.7L624.6 1089.6L625.0 1115.1L625.4 1137.2L625.8 1157.3L626.2 1176.1L626.6 1193.9L627.0 1211.0L627.4 1202.4L627.8 1193.6L628.2 1184.3L628.5 1174.6L628.9 1164.1L629.3 1152.4L629.7 1138.8L630.1 1122.2L630.5 1100.4L630.8 1069.4L631.2 1024.1L631.6 965.8L632.0 929.0L632.4 978.4L632.8 1057.3L633.2 1117.9L633.5 1158.5L633.9 1186.5L634.3 1207.4L634.7 1224.1L635.1 1238.3L635.5 1250.9L635.9 1262.5L636.3 1273.3L636.7 1283.6L637.0 1293.5L637.4 1303.2L637.8 1312.7L638.2 1322.0L638.6 1318.6L639.0 1315.2L639.4 1311.6L639.8 1308.0L640.2 1304.2L640.6 1300.1L641.0 1295.7L641.4 1290.8L641.8 1285.1L642.2 1278.0L642.6 1268.6L643.0 1254.9L643.4 1234.2L643.8 1206.7L644.2 1189.0L644.6 1198.7L645.0 1214.3L645.4 1225.9L645.8 1233.5L646.2 1238.6L646.6 1242.3L647.0 1245.2L647.4 1247.6L647.8 1249.7L648.2 1251.6L648.5 1253.3L648.9 1254.9L649.3 1256.5L649.7 1258.0L650.1 1259.5L650.5 1261.0L650.9 1262.4L651.3 1263.8L651.7 1265.2L652.1 1266.6L652.5 1268.0L652.9 1262.1L653.3 1256.1L653.7 1250.0L654.1 1243.8L654.4 1237.4L654.8 1230.8L655.2 1223.8L655.6 1216.3L656.0 1208.1L656.4 1198.9L656.8 1187.9L657.2 1174.1L657.5 1155.4L657.9 1128.3L658.3 1087.6L658.7 1034.5L659.1 1001.3L659.5 1006.9L659.8 1015.4L660.2 1022.5L660.6 1027.7L660.9 1031.7L661.3 1035.0L663.3 1038.0L663.7 1067.1L664.1 1114.0L664.4 1150.7L664.8 1175.6L665.2 1193.0L665.6 1206.0L666.0 1216.5L666.3 1225.4L666.7 1233.4L667.1 1240.6L667.5 1247.5L667.9 1254.0L668.2 1260.3L668.6 1266.5L669.0 1272.5L669.4 1265.0L669.8 1257.2L670.2 1249.0L670.6 1240.2L671.0 1230.6L671.4 1219.5L671.8 1206.1L672.2 1188.6L672.6 1163.8L673.0 1127.1L673.4 1078.6L673.8 1047.0L674.2 1059.1L674.6 1077.7L675.0 1092.2L675.4 1102.3L675.7 1109.7L676.1 1115.6L676.5 1120.5L676.9 1124.9L677.3 1129.0L679.3 1132.0L679.7 1151.1L680.1 1181.7L680.5 1205.2L680.8 1220.9L681.2 1231.8L681.6 1239.9L682.0 1246.4L682.4 1251.9L682.8 1256.8L683.2 1261.2L683.6 1265.4L684.0 1269.4L684.3 1273.3L684.7 1277.0L685.1 1280.7L685.5 1284.3L685.9 1273.2L686.3 1260.4L686.7 1244.5L687.0 1223.4L687.4 1193.8L687.8 1156.7L688.2 1132.0L690.2 1129.0L690.6 1127.0L691.0 1124.9L691.4 1122.8L691.8 1120.6L692.2 1118.3L692.6 1115.8L693.0 1113.2L693.4 1110.3L693.8 1106.8L694.2 1102.5L694.6 1096.9L695.0 1088.6L695.4 1076.2L695.8 1059.6L696.2 1049.0L696.6 1087.4L697.0 1144.6L697.4 1188.7L697.8 1219.4L698.2 1242.1L698.6 1260.3L699.0 1275.8L699.4 1289.8L699.8 1287.3L700.2 1284.8L700.5 1282.3L700.9 1279.8L701.3 1277.2L701.7 1274.6L702.1 1272.0L702.5 1269.3L702.8 1266.6L703.2 1263.7L703.6 1260.8L704.0 1257.7L704.4 1254.4L704.8 1250.9L705.1 1246.9L705.5 1242.2L705.9 1236.6L706.3 1229.3L706.7 1219.1L707.1 1203.9L707.4 1181.0L707.8 1151.1L708.2 1133.0L708.6 1155.9L709.0 1192.4L709.4 1219.9L709.8 1237.9L710.2 1250.1L710.6 1259.1L711.0 1266.1L711.4 1272.0L711.8 1277.2L712.1 1281.9L712.5 1286.3L712.9 1290.4L713.3 1294.4L713.7 1298.3L714.1 1302.1L714.5 1305.8L714.9 1309.4L715.3 1313.0L715.7 1316.6L716.1 1311.3L716.5 1305.8L716.9 1300.1L717.2 1294.1L717.6 1287.6L718.0 1280.4L718.4 1272.0L718.8 1261.8L719.2 1248.3L719.5 1229.2L719.9 1201.2L720.3 1165.2L720.7 1142.5L721.1 1166.3L721.5 1203.4L721.9 1231.9L722.3 1251.3L722.7 1265.0L723.0 1275.6L723.4 1284.3L723.8 1291.8L724.2 1298.7L724.6 1305.1L725.0 1311.2L725.4 1317.0L725.8 1307.7L726.2 1297.8L726.6 1287.0L727.0 1274.8L727.3 1260.2L727.7 1241.5L728.1 1215.7L728.5 1178.3L728.9 1130.2L729.3 1099.0L729.7 1127.3L730.1 1173.7L730.5 1208.7L730.9 1231.2L731.2 1246.0L731.6 1256.3L732.0 1264.2L732.4 1270.5L732.8 1275.8L733.2 1280.4L733.6 1284.6L734.0 1288.5L734.4 1292.2L734.8 1295.8L735.1 1299.2L735.5 1302.5L735.9 1305.7L736.3 1308.9L736.7 1312.0L737.1 1315.1L737.5 1318.2L737.9 1321.2L738.3 1324.3L738.7 1327.3L739.0 1330.2L739.4 1333.2L739.8 1336.2L740.2 1339.1L740.6 1342.1L741.0 1345.0L741.4 1343.1L741.8 1341.2L742.2 1339.1L742.6 1337.1L743.0 1334.8L743.4 1332.4L743.8 1329.8L744.1 1326.6L744.5 1322.8L744.9 1317.7L745.3 1310.5L745.7 1299.6L746.1 1285.4L746.5 1276.4L746.9 1285.8L747.3 1300.1L747.7 1311.0L748.1 1318.5L748.5 1323.9L748.9 1328.1L749.3 1331.6L749.7 1334.7L750.1 1337.6L750.5 1340.3L755.2 1337.0L755.6 1298.8L756.0 1247.1L756.4 1182.0L756.8 1136.0L758.3 1133.0L758.7 1129.6L759.0 1125.1L759.4 1119.7L759.8 1116.0L761.3 1113.0L761.7 1109.5L762.1 1105.8L762.5 1102.0L762.8 1098.0L763.2 1093.6L763.6 1088.8L764.0 1083.2L764.4 1076.3L764.8 1067.3L765.1 1054.5L765.5 1035.8L765.9 1011.7L766.3 996.5L766.7 1029.7L767.0 1083.7L767.4 1126.9L767.8 1156.6L768.2 1177.6L768.5 1193.5L768.9 1206.3L769.3 1217.3L769.6 1227.1L770.0 1236.1L770.4 1244.5L770.8 1252.6L771.1 1260.4L771.5 1268.0L771.9 1260.9L772.3 1253.5L772.7 1245.6L773.1 1236.9L773.5 1227.1L773.9 1215.2L774.3 1199.9L774.7 1178.5L775.1 1146.9L775.5 1105.3L775.9 1078.0L776.3 1100.5L776.7 1136.6L777.0 1165.1L777.4 1184.7L777.8 1198.7L778.2 1209.3L778.5 1217.9L778.9 1225.3L779.3 1232.0L779.7 1238.2L780.0 1244.0L780.4 1249.6L780.8 1255.0L781.2 1250.5L781.6 1245.9L782.0 1241.2L782.3 1236.3L782.7 1231.0L783.1 1225.3L783.5 1219.0L783.9 1211.6L784.3 1202.4L784.7 1190.3L785.0 1173.1L785.4 1147.6L785.8 1114.7L786.2 1094.0L786.6 1120.9L786.9 1163.0L787.3 1198.0L787.7 1223.3L788.0 1242.3L788.4 1257.4L788.7 1270.2L789.1 1281.6L789.5 1275.0L789.9 1268.2L790.3 1261.4L790.7 1254.4L791.1 1247.3L791.5 1239.8L791.9 1232.0L792.3 1223.7L792.7 1214.6L793.1 1204.4L793.5 1192.3L793.9 1177.1L794.3 1156.6L794.7 1126.5L795.1 1080.8L795.5 1019.5L795.9 980.5L796.3 1024.9L796.7 1094.3L797.0 1149.4L797.4 1187.9L797.8 1215.9L798.2 1237.8L798.6 1256.0L798.9 1272.1L799.3 1286.7L799.7 1300.5L800.1 1292.3L800.5 1284.0L800.9 1275.5L801.3 1267.0L801.7 1258.3L802.1 1249.4L802.5 1240.3L802.9 1230.7L803.3 1220.7L803.7 1209.9L804.1 1198.1L804.5 1184.6L804.9 1168.5L805.3 1148.1L805.7 1120.2L806.1 1079.1L806.5 1015.8L806.9 930.8L807.3 877.0L807.7 897.7L808.1 929.0L808.5 952.9L808.9 969.2L809.3 981.0L809.7 990.2L810.1 998.0L810.5 1004.8L810.9 1011.1L811.3 1017.0L813.3 1020.0L813.7 1056.1L814.0 1111.0L814.4 1156.6L814.8 1190.2L815.1 1216.0L815.5 1237.0L815.9 1226.2L816.3 1213.7L816.7 1198.2L817.1 1177.6L817.5 1148.3L817.9 1110.6L818.3 1085.0L818.7 1107.6L819.1 1142.2L819.5 1169.3L819.9 1188.2L820.2 1202.1L820.6 1213.0L821.0 1222.2L821.4 1230.4L821.8 1238.0L822.2 1236.8L822.6 1235.6L822.9 1234.2L823.3 1232.5L823.7 1230.4L824.1 1227.5L824.4 1223.4L824.8 1218.3L825.2 1215.0L825.6 1228.0L825.9 1248.4L826.3 1265.1L826.7 1277.1L827.0 1285.9L827.4 1292.9L827.8 1298.8L828.1 1304.0L828.5 1308.7L828.9 1295.6L829.2 1281.5L829.6 1266.1L830.0 1248.5L830.4 1227.5L830.7 1200.5L831.1 1163.5L831.5 1111.2L831.8 1046.7L832.2 1006.0L833.8 1003.0L834.2 986.5L834.5 967.2L834.9 943.4L835.3 911.8L835.7 868.3L836.0 815.0L836.4 780.3L836.8 814.0L837.1 866.5L837.5 910.7L837.8 943.3L838.2 968.0L838.5 988.0L838.9 1005.0L840.5 1008.0L840.9 1036.9L841.2 1083.4L841.6 1121.8L841.9 1149.3L842.3 1169.5L842.7 1185.3L843.0 1198.4L843.4 1209.8L843.7 1220.3L844.1 1230.0L844.5 1224.5L844.9 1218.8L845.3 1212.7L845.7 1206.3L846.1 1199.1L846.5 1190.9L846.8 1180.9L847.2 1168.0L847.6 1149.7L848.0 1122.7L848.4 1087.8L848.8 1065.3L849.1 1100.7L849.5 1157.2L849.9 1205.1L850.2 1240.5L850.5 1267.0L850.9 1288.2L851.2 1306.1L851.6 1322.0L853.4 1325.0L853.8 1328.2L854.2 1333.3L854.6 1337.1L855.0 1339.7L855.4 1341.5L855.8 1342.8L856.2 1343.9L856.5 1344.8L856.9 1345.7L857.3 1346.5L857.7 1347.4L858.1 1348.1L858.5 1348.9L858.9 1349.6L859.3 1350.3L863.6 1340.0L864.8 1338.0L865.1 1317.4L865.5 1290.6L865.9 1259.6L866.2 1239.0L867.4 1237.0L867.8 1234.4L868.1 1230.9L868.5 1226.4L868.8 1221.1L869.2 1217.5L869.6 1235.0L870.0 1262.1L870.4 1283.1L870.8 1297.4L871.2 1307.7L871.5 1315.7L871.9 1322.3L872.3 1328.1L872.7 1333.4L873.1 1338.3L873.5 1343.0L873.9 1338.7L874.3 1334.1L874.7 1329.3L875.1 1324.0L875.5 1317.9L875.9 1310.7L876.3 1301.3L876.7 1288.2L877.1 1268.8L877.5 1243.3L877.9 1226.6L878.3 1244.0L878.7 1270.2L879.1 1291.0L879.4 1306.0L879.8 1317.1L880.2 1326.2L880.6 1334.0L882.4 1337.0L882.8 1339.1L883.1 1342.4L883.5 1345.2L883.8 1347.5L884.2 1349.1L884.6 1350.4L884.9 1351.4L885.3 1352.4L885.6 1353.2L886.0 1354.0L890.0 1358.5L898.0 1359.2L1110.0 1359.2L1120.5 1358.3L1125.2 1350.4L1125.6 1349.5L1126.0 1348.3L1126.4 1346.5L1126.8 1343.9L1127.2 1340.7L1127.6 1338.7L1130.0 1336.8L1132.3 1343.4L1132.7 1346.3L1133.1 1351.1L1133.5 1354.8L1133.9 1357.2L1134.3 1356.8L1134.7 1356.2L1135.1 1355.5L1135.5 1354.4L1135.9 1352.8L1136.3 1350.4L1136.7 1347.1L1137.1 1345.0L1137.5 1347.6L1137.9 1351.7L1138.2 1354.7L1138.6 1356.7L1139.0 1358.0L1139.4 1358.9L1139.8 1359.2L1140.2 1359.2L1140.6 1359.2L1141.0 1359.2L1141.4 1359.1L1141.8 1358.5L1142.2 1357.7L1142.6 1356.7L1143.0 1355.0L1143.4 1352.4L1143.8 1348.9L1144.2 1346.8L1144.6 1343.7L1145.0 1340.8L1145.4 1337.6L1145.7 1334.3L1146.1 1330.7L1146.5 1326.7L1146.9 1322.1L1147.3 1316.7L1147.7 1310.0L1148.1 1301.4L1148.5 1289.4L1148.9 1271.7L1149.3 1243.9L1149.7 1199.6L1150.1 1139.3L1150.5 1102.7L1150.9 1139.2L1151.3 1200.2L1151.7 1245.2L1152.1 1273.1L1152.5 1290.5L1152.9 1302.0L1153.3 1310.0L1153.6 1316.0L1154.0 1320.6L1154.4 1324.4L1154.8 1327.6L1155.2 1330.3L1155.6 1332.8L1156.0 1335.1L1156.4 1337.2L1156.8 1339.1L1157.2 1341.0L1157.6 1342.8L1158.0 1344.5L1158.4 1346.3L1158.8 1348.1L1159.2 1349.9L1159.5 1351.7L1159.9 1353.5L1160.3 1355.2L1160.7 1356.9L1161.1 1358.5L1161.5 1359.2L1167.8 1357.5L1171.0 1350.4L1173.3 1346.8L1173.7 1349.0L1174.1 1352.7L1174.5 1355.4L1174.9 1357.1L1175.3 1358.3L1175.7 1359.1L1176.1 1359.2L1176.5 1359.2L1176.9 1359.0L1177.3 1357.4L1177.7 1355.0L1178.1 1351.3L1178.5 1346.3L1178.9 1343.4L1179.3 1342.9L1179.7 1342.4L1180.0 1341.7L1180.4 1340.8L1180.8 1339.6L1181.2 1338.0L1181.6 1335.5L1182.0 1331.5L1182.4 1326.2L1182.8 1322.9L1183.2 1328.6L1183.6 1337.8L1184.0 1344.7L1184.4 1349.6L1184.8 1352.8L1185.2 1355.1L1185.6 1356.7L1186.0 1358.1L1186.4 1359.2L1186.8 1359.2L1187.1 1358.9L1187.5 1357.6L1187.9 1356.2L1188.3 1354.7L1188.7 1353.1L1189.1 1351.3L1189.5 1349.2L1189.9 1346.8L1190.3 1343.9L1190.7 1340.4L1191.1 1335.6L1191.5 1328.6L1191.9 1317.5L1192.3 1299.8L1192.7 1275.9L1193.1 1261.4L1193.5 1274.7L1193.8 1295.9L1194.2 1311.9L1194.6 1322.4L1195.0 1329.6L1195.4 1322.2L1195.8 1311.5L1196.2 1295.1L1196.6 1273.5L1197.0 1259.8L1197.4 1259.1L1197.8 1258.0L1198.2 1256.4L1198.6 1254.0L1199.0 1250.8L1199.4 1248.8L1199.8 1269.8L1200.2 1302.7L1200.6 1327.8L1200.9 1302.5L1201.3 1269.2L1201.7 1248.0L1202.1 1262.8L1202.5 1287.3L1202.9 1305.4L1203.3 1316.7L1203.7 1324.0L1204.1 1328.9L1204.5 1332.4L1204.9 1335.1L1205.3 1337.3L1205.7 1339.2L1206.1 1340.9L1206.5 1342.3L1206.9 1343.7L1207.3 1345.0L1207.6 1346.3L1208.0 1347.6L1208.4 1344.1L1208.8 1340.6L1209.2 1337.1L1209.6 1333.4L1210.0 1329.5L1210.4 1325.3L1210.8 1320.7L1211.2 1315.6L1211.6 1309.7L1212.0 1302.6L1212.4 1293.9L1212.7 1282.4L1213.1 1266.4L1213.5 1242.6L1213.9 1205.1L1214.3 1145.4L1214.7 1065.0L1215.1 1016.7L1215.5 1057.8L1215.9 1125.0L1216.3 1174.4L1216.7 1205.5L1217.1 1225.3L1217.5 1238.8L1217.9 1248.7L1218.3 1256.4L1218.7 1262.7L1219.1 1268.1L1219.5 1272.9L1219.9 1277.2L1220.3 1281.3L1220.7 1285.1L1221.1 1295.6L1221.5 1312.3L1221.8 1325.0L1222.2 1333.3L1222.6 1325.2L1223.0 1313.0L1223.4 1296.9L1223.8 1286.7L1224.2 1297.0L1224.6 1314.3L1225.0 1327.0L1225.4 1334.9L1225.8 1339.9L1226.2 1343.2L1226.6 1345.6L1227.0 1347.5L1227.4 1349.0L1227.8 1350.3L1228.2 1351.4L1228.5 1352.3L1228.9 1353.2L1229.3 1354.0L1229.7 1354.7L1230.1 1355.4L1230.5 1356.1L1230.9 1356.7L1231.3 1357.3L1231.7 1357.9L1232.1 1358.5L1232.5 1359.1L1232.9 1359.2L1233.3 1359.2L1233.7 1358.8L1234.1 1357.4L1234.5 1355.9L1234.9 1354.2L1235.3 1352.5L1235.6 1350.5L1236.0 1348.3L1236.4 1345.7L1236.8 1342.7L1237.2 1339.0L1237.6 1333.8L1238.0 1326.1L1238.4 1314.1L1238.8 1295.0L1239.2 1269.2L1239.6 1253.5L1241.2 1252.0L1241.6 1271.5L1242.0 1302.3L1242.4 1325.7L1242.7 1341.2L1243.1 1326.2L1243.5 1303.7L1243.9 1274.0L1244.3 1255.1L1244.7 1253.4L1245.1 1251.4L1245.5 1249.0L1245.9 1246.1L1246.3 1242.1L1246.7 1236.5L1247.1 1227.8L1247.5 1214.3L1247.9 1196.1L1248.3 1184.9L1248.7 1216.3L1249.1 1265.8L1249.4 1303.3L1249.8 1328.3L1250.2 1303.2L1250.6 1265.5L1251.0 1215.7L1251.4 1184.1L1251.8 1212.2L1252.2 1256.9L1252.6 1290.6L1253.0 1312.8L1253.4 1327.9L1253.8 1312.5L1254.2 1290.0L1254.6 1255.7L1255.0 1210.3L1255.4 1181.8L1255.8 1192.9L1256.2 1211.1L1256.5 1224.7L1256.9 1233.2L1257.3 1238.7L1257.7 1242.4L1258.1 1245.1L1258.5 1247.2L1258.9 1249.0L1259.3 1250.5L1259.7 1251.8L1260.1 1253.0L1260.5 1254.1L1260.9 1255.1L1261.3 1274.1L1261.7 1304.2L1262.1 1326.9L1262.5 1342.0L1262.9 1326.9L1263.2 1304.2L1263.6 1274.1L1264.0 1255.1L1264.4 1266.6L1264.8 1285.4L1265.2 1299.4L1265.6 1308.2L1266.0 1313.8L1266.4 1317.7L1266.8 1320.5L1267.2 1322.7L1267.6 1324.5L1268.0 1326.0L1268.4 1327.4L1268.8 1328.6L1269.2 1329.7L1269.6 1330.8L1272.7 1330.0L1273.1 1334.3L1273.5 1341.4L1273.9 1346.9L1274.3 1350.6L1274.7 1353.0L1275.1 1354.7L1275.5 1355.8L1275.9 1356.8L1276.3 1357.5L1276.7 1358.2L1277.1 1358.8L1277.4 1359.2L1277.8 1359.2L1278.2 1359.2L1278.6 1358.9L1279.0 1357.3L1279.4 1355.2L1279.8 1352.2L1280.2 1347.7L1280.6 1341.1L1281.0 1332.8L1281.4 1327.7L1283.8 1326.9L1287.7 1329.2L1290.9 1322.9L1293.2 1318.2L1296.4 1322.9L1296.8 1322.2L1297.2 1321.4L1297.6 1320.6L1297.9 1319.7L1298.3 1318.8L1298.7 1317.7L1299.1 1316.5L1299.5 1315.1L1299.9 1313.3L1300.3 1311.0L1300.7 1307.9L1301.1 1303.2L1301.5 1295.9L1301.9 1284.3L1302.3 1268.6L1302.7 1259.1L1304.3 1258.3L1304.7 1262.3L1305.0 1268.8L1305.4 1273.7L1305.8 1276.8L1306.2 1278.8L1306.6 1280.3L1307.0 1281.3L1307.4 1282.2L1307.8 1282.9L1308.2 1283.5L1308.6 1281.9L1309.0 1280.1L1309.4 1277.9L1309.8 1275.2L1310.2 1271.5L1310.6 1266.3L1311.0 1258.4L1311.4 1245.9L1311.8 1229.1L1312.1 1218.8L1312.5 1233.3L1312.9 1255.9L1313.3 1273.1L1313.7 1254.4L1314.1 1229.8L1314.5 1214.1L1314.9 1210.3L1315.3 1205.9L1315.7 1200.8L1316.1 1194.3L1316.5 1185.7L1316.9 1173.4L1317.3 1154.4L1317.7 1124.5L1318.1 1083.9L1318.5 1058.8L1318.9 1100.5L1319.3 1170.4L1319.7 1222.0L1320.1 1254.2L1320.5 1274.4L1320.9 1287.8L1321.2 1297.3L1321.6 1304.3L1322.0 1309.9L1322.4 1314.5L1322.8 1318.4L1323.2 1321.8L1323.6 1324.9L1324.0 1327.7L1324.4 1330.4L1324.8 1332.8L1325.2 1335.2L1325.6 1337.5L1326.0 1339.8L1326.3 1341.9L1326.7 1344.0L1327.1 1346.3L1327.5 1348.6L1327.9 1350.8L1328.3 1349.1L1328.7 1346.9L1329.1 1344.2L1329.5 1340.6L1329.9 1335.2L1330.3 1326.8L1330.7 1315.7L1331.1 1308.7L1331.5 1311.4L1331.9 1315.8L1332.3 1319.1L1332.6 1321.1L1333.0 1322.5L1333.4 1323.4L1333.8 1324.1L1334.2 1324.6L1334.6 1325.0L1335.0 1325.4L1335.4 1325.8L1335.8 1326.1L1338.2 1330.8L1338.6 1336.3L1339.0 1345.0L1339.4 1352.3L1339.7 1357.2L1342.1 1346.8L1342.5 1345.6L1342.9 1344.3L1343.3 1343.0L1343.7 1341.5L1344.1 1339.6L1344.5 1337.3L1344.9 1334.1L1345.3 1329.5L1345.7 1322.3L1346.1 1311.1L1346.5 1295.9L1346.8 1286.7L1347.2 1297.5L1347.6 1315.4L1348.0 1328.7L1348.4 1337.0L1348.8 1342.4L1349.2 1346.2L1349.6 1349.2L1350.0 1351.5L1350.4 1353.4L1350.8 1355.1L1351.2 1356.5L1351.6 1357.8L1352.0 1359.1L1352.4 1359.2L1352.8 1358.8L1353.2 1357.3L1353.5 1355.9L1353.9 1354.4L1354.3 1352.9L1354.7 1351.4L1355.1 1349.8L1355.5 1348.3L1355.9 1346.7L1356.3 1345.1L1356.7 1343.6L1357.1 1342.0L1357.5 1340.5L1357.9 1338.8L1358.3 1337.1L1358.7 1335.2L1359.1 1333.2L1359.5 1330.9L1359.9 1328.4L1360.3 1325.5L1360.6 1322.1L1361.0 1317.9L1361.4 1312.4L1361.8 1305.0L1362.2 1294.3L1362.6 1278.1L1363.0 1252.1L1363.4 1210.1L1363.8 1152.9L1364.2 1118.7L1364.6 1128.6L1365.0 1144.7L1365.4 1156.8L1365.8 1164.4L1366.2 1169.5L1366.6 1173.0L1367.0 1175.6L1367.4 1177.7L1367.7 1179.4L1368.1 1181.0L1368.5 1202.6L1368.8 1239.9L1369.2 1271.1L1369.5 1293.0L1369.9 1308.3L1370.2 1293.2L1370.6 1271.5L1370.9 1240.7L1371.3 1203.9L1371.6 1182.6L1372.0 1186.8L1372.3 1194.1L1372.7 1200.0L1373.1 1203.9L1373.4 1206.5L1373.8 1208.3L1374.1 1209.7L1374.5 1210.8L1374.9 1211.7L1375.2 1212.5L1375.6 1239.3L1376.0 1281.2L1376.4 1313.1L1376.8 1281.9L1377.2 1241.0L1377.6 1214.9L1378.0 1232.4L1378.4 1261.3L1378.8 1282.7L1379.2 1296.2L1379.6 1304.8L1380.0 1310.7L1380.4 1315.0L1380.8 1318.4L1381.2 1321.1L1381.5 1323.5L1381.9 1325.5L1382.3 1327.4L1382.7 1329.2L1383.1 1330.8L1383.5 1327.5L1383.9 1323.0L1384.3 1316.2L1384.7 1305.9L1385.1 1292.1L1385.5 1283.5L1385.9 1294.1L1386.3 1310.7L1386.7 1323.4L1387.1 1310.0L1387.5 1292.4L1387.9 1281.1L1388.2 1289.4L1388.6 1302.5L1389.0 1312.4L1389.4 1318.9L1389.8 1323.4L1390.2 1319.2L1390.6 1313.0L1391.0 1303.7L1391.4 1291.3L1391.8 1283.5L1392.2 1293.4L1392.6 1309.5L1393.0 1321.5L1393.4 1329.1L1393.8 1334.0L1394.2 1337.4L1394.6 1339.9L1395.0 1341.9L1395.3 1343.5L1395.7 1344.9L1396.1 1346.3L1396.5 1347.6L1396.9 1345.5L1397.3 1343.4L1397.7 1341.4L1398.1 1339.3L1398.5 1337.2L1398.9 1335.1L1399.3 1332.8L1399.6 1330.4L1400.0 1327.9L1400.4 1325.2L1400.8 1322.3L1401.2 1319.1L1401.6 1315.4L1402.0 1311.1L1402.4 1305.9L1402.8 1299.3L1403.2 1290.5L1403.5 1278.1L1403.9 1259.4L1404.3 1229.7L1404.7 1182.3L1405.1 1118.5L1405.5 1080.6L1405.9 1122.2L1406.3 1190.6L1406.7 1240.4L1407.1 1271.2L1407.5 1290.7L1407.9 1303.7L1408.3 1313.0L1408.7 1320.1L1409.1 1325.8L1409.5 1330.5L1409.9 1334.6L1410.3 1338.3L1410.7 1341.7L1411.1 1344.8L1411.5 1348.1L1411.9 1351.3L1412.3 1354.4L1412.7 1357.3L1413.1 1359.2L1413.5 1354.5L1413.9 1345.9L1414.3 1335.6L1414.7 1329.2L1415.1 1333.8L1415.5 1341.2L1415.9 1346.9L1416.2 1350.8L1416.6 1353.3L1417.0 1355.1L1417.4 1356.4L1417.8 1357.4L1418.2 1358.2L1418.6 1359.0L1419.0 1359.2L1419.4 1359.2L1419.8 1358.4L1420.2 1356.6L1420.6 1354.6L1421.0 1352.5L1421.3 1350.3L1421.7 1347.9L1422.1 1345.3L1422.5 1342.5L1422.9 1339.3L1423.3 1335.3L1423.7 1330.0L1424.1 1322.7L1424.5 1312.0L1424.9 1295.1L1425.2 1268.3L1425.6 1232.4L1426.0 1210.9L1426.4 1228.2L1426.8 1257.5L1427.1 1280.8L1427.5 1296.3L1427.9 1306.6L1428.2 1314.0L1428.6 1319.5L1429.0 1323.9L1429.3 1327.7L1429.7 1323.7L1430.1 1319.3L1430.5 1313.9L1430.9 1307.3L1431.3 1298.4L1431.7 1285.6L1432.1 1266.1L1432.5 1235.5L1432.9 1194.4L1433.3 1169.1L1433.7 1187.8L1434.1 1219.0L1434.4 1242.3L1434.8 1257.0L1435.2 1266.5L1435.6 1273.0L1436.0 1277.7L1436.4 1281.3L1436.8 1284.2L1437.2 1286.7L1437.6 1288.9L1437.9 1290.9L1438.3 1292.8L1438.7 1294.5L1439.1 1296.1L1439.5 1301.4L1439.9 1309.7L1440.3 1316.0L1440.7 1320.1L1441.1 1322.9L1441.5 1320.6L1441.9 1317.2L1442.3 1312.0L1442.7 1305.2L1443.1 1300.9L1443.5 1312.9L1443.8 1331.9L1444.2 1346.5L1444.6 1357.2L1445.0 1356.1L1445.4 1354.9L1445.8 1353.6L1446.2 1352.1L1446.6 1350.5L1447.0 1348.6L1447.4 1346.3L1447.8 1343.5L1448.2 1339.8L1448.6 1334.5L1449.0 1326.2L1449.4 1313.0L1449.8 1295.1L1450.2 1284.3L1450.6 1296.2L1450.9 1315.1L1451.3 1329.4L1451.7 1338.8L1452.1 1329.2L1452.5 1314.7L1452.9 1295.6L1453.3 1283.5L1453.7 1282.7L1454.1 1281.8L1454.5 1280.8L1454.9 1279.6L1455.2 1278.1L1455.6 1276.0L1456.0 1273.1L1456.4 1268.5L1456.8 1261.4L1457.2 1252.1L1457.6 1246.4L1457.9 1253.1L1458.3 1264.7L1458.7 1273.8L1459.0 1279.8L1459.4 1283.8L1459.8 1286.6L1460.1 1288.6L1460.5 1290.2L1460.9 1291.5L1461.3 1292.6L1461.6 1293.6L1462.0 1294.5L1462.4 1307.1L1462.8 1326.8L1463.2 1341.8L1463.6 1327.3L1464.0 1308.3L1464.4 1296.1L1464.7 1294.6L1465.1 1292.9L1465.5 1291.0L1465.9 1288.8L1466.3 1286.1L1466.7 1282.7L1467.1 1278.2L1467.5 1271.6L1467.9 1261.3L1468.3 1245.2L1468.7 1223.4L1469.1 1210.2L1469.5 1231.2L1469.9 1266.4L1470.3 1292.2L1470.7 1308.1L1471.1 1318.0L1471.5 1324.5L1471.8 1328.9L1472.2 1332.2L1472.6 1334.7L1473.0 1336.7L1473.4 1338.3L1473.8 1339.8L1474.2 1341.0L1474.6 1342.1L1475.0 1343.2L1475.4 1344.1L1475.8 1345.0L1476.2 1346.0L1476.6 1346.9L1477.0 1347.8L1477.4 1348.7L1477.8 1349.5L1478.2 1350.3L1478.5 1351.1L1478.9 1351.9L1479.3 1352.7L1479.7 1353.5L1480.1 1354.3L1480.5 1355.0L1480.9 1355.8L1481.3 1356.5L1481.7 1357.3L1482.1 1358.0L1482.5 1358.8L1482.9 1359.2L1483.3 1359.2L1483.7 1359.0L1484.1 1357.7L1484.5 1356.5L1484.9 1355.2L1485.3 1353.9L1485.7 1352.6L1486.1 1351.2L1486.5 1349.8L1486.9 1348.3L1487.3 1346.7L1487.7 1345.1L1488.1 1343.5L1488.4 1341.8L1488.8 1340.0L1489.2 1337.8L1489.6 1335.3L1490.0 1332.2L1490.4 1328.3L1490.8 1323.1L1491.2 1315.6L1491.6 1304.3L1492.0 1286.3L1492.4 1257.0L1492.8 1217.0L1493.2 1192.8L1493.6 1198.0L1494.0 1206.6L1494.4 1213.1L1494.8 1217.2L1495.2 1219.9L1495.5 1221.7L1495.9 1223.0L1496.3 1224.1L1496.7 1225.0L1497.1 1225.7L1497.5 1226.4L1497.9 1227.0L1498.3 1227.5L1498.7 1250.8L1499.1 1287.6L1499.4 1315.5L1499.8 1334.0L1500.2 1315.4L1500.6 1287.4L1501.0 1250.5L1501.4 1227.0L1501.8 1246.3L1502.2 1278.2L1502.6 1301.7L1503.0 1316.4L1503.4 1325.6L1503.8 1331.8L1504.2 1336.3L1504.6 1339.6L1505.0 1342.3L1505.4 1344.5L1505.8 1346.6L1506.2 1348.5L1506.5 1350.3L1506.9 1351.9L1507.3 1353.4L1507.7 1354.9L1508.1 1356.3L1508.5 1357.6L1508.9 1358.9L1509.3 1359.2L1509.7 1359.0L1510.1 1357.6L1510.5 1356.0L1510.9 1353.9L1511.3 1351.2L1511.7 1347.2L1512.1 1341.6L1512.5 1333.2L1512.9 1322.0L1513.2 1315.0L1514.8 1312.7L1515.2 1315.5L1515.6 1320.1L1516.0 1323.5L1516.4 1325.6L1516.8 1327.0L1517.2 1328.0L1517.6 1328.7L1518.0 1329.3L1518.4 1329.7L1518.8 1330.1L1519.2 1330.5L1519.6 1330.8L1522.7 1334.0L1523.1 1338.8L1523.5 1346.5L1523.9 1353.0L1524.3 1357.2L1524.7 1355.2L1525.1 1352.4L1525.5 1348.3L1525.9 1342.2L1526.3 1334.7L1526.7 1330.0L1527.1 1332.0L1527.4 1335.1L1527.8 1337.5L1528.2 1339.0L1528.6 1340.0L1529.0 1340.7L1529.4 1341.2L1529.8 1341.7L1530.2 1340.2L1530.6 1338.7L1531.0 1337.2L1531.4 1335.5L1531.8 1333.6L1532.2 1331.6L1532.6 1329.3L1533.0 1326.6L1533.4 1323.2L1533.8 1318.8L1534.1 1312.8L1534.5 1303.8L1534.9 1289.8L1535.3 1267.4L1535.7 1237.1L1536.1 1218.8L1536.5 1234.5L1536.9 1260.5L1537.3 1279.7L1537.7 1291.7L1538.1 1299.4L1538.5 1304.5L1538.9 1308.2L1539.3 1311.0L1539.7 1313.2L1540.1 1315.1L1540.5 1316.7L1540.9 1318.2L1541.2 1319.6L1541.6 1320.8L1542.0 1322.0L1542.4 1323.1L1542.8 1324.2L1543.2 1325.3L1545.6 1326.1L1546.0 1330.6L1546.4 1338.0L1546.8 1343.5L1547.2 1347.2L1547.6 1349.7L1547.9 1351.5L1548.3 1352.7L1548.7 1353.8L1549.1 1354.6L1549.5 1355.3L1549.9 1356.0L1550.3 1356.6L1555.0 1359.2L1559.8 1353.9L1560.2 1353.1L1560.6 1352.2L1560.9 1351.3L1561.3 1350.2L1561.7 1349.0L1562.1 1347.5L1562.5 1345.6L1562.9 1343.2L1563.3 1339.8L1563.7 1334.5L1564.0 1326.3L1564.4 1315.3L1564.8 1308.7L1565.2 1314.0L1565.6 1323.0L1565.9 1330.0L1566.3 1334.6L1566.7 1337.6L1567.1 1339.7L1567.4 1341.2L1567.8 1342.3L1568.2 1343.3L1568.5 1344.1L1568.9 1344.8L1569.3 1345.5L1569.7 1346.2L1570.0 1346.8L1570.4 1349.2L1570.8 1353.1L1571.2 1356.1L1571.6 1358.0L1572.0 1359.2L1572.4 1359.2L1572.8 1359.2L1573.2 1358.2L1573.6 1356.9L1574.0 1355.3L1574.4 1353.1L1574.8 1350.0L1575.2 1345.3L1575.6 1338.7L1575.9 1329.9L1576.3 1324.5L1576.7 1328.5L1577.1 1335.0L1577.5 1339.8L1577.9 1342.9L1578.3 1344.8L1578.7 1346.3L1579.1 1347.5L1579.5 1348.4L1579.9 1349.1L1580.3 1349.8L1580.7 1350.3L1581.1 1350.8L1581.5 1349.6L1581.9 1348.2L1582.3 1346.6L1582.6 1344.5L1583.0 1342.1L1583.4 1338.6L1583.8 1333.2L1584.2 1324.7L1584.6 1313.3L1585.0 1306.4L1585.4 1313.8L1585.8 1326.1L1586.2 1335.2L1586.6 1340.9L1587.0 1344.6L1587.4 1347.2L1587.8 1349.2L1588.2 1350.7L1588.6 1351.9L1589.0 1352.9L1589.4 1353.8L1589.7 1354.6L1590.1 1355.3L1590.5 1356.0L1590.9 1356.6L1591.3 1357.2L1591.7 1357.8L1592.1 1358.3" fill="none" stroke="#ff0000" stroke-width="7.2" stroke-linejoin="round" stroke-linecap="round"/>
</g>
<g class="tick"><text x="30.9" y="1429.4" textLength="26.8" lengthAdjust="spacingAndGlyphs">0</text><text x="232.2" y="1429.4" textLength="80.4" lengthAdjust="spacingAndGlyphs">500</text><text x="433.5" y="1429.4" textLength="107.2" lengthAdjust="spacingAndGlyphs">1000</text><text x="634.8" y="1429.4" textLength="107.2" lengthAdjust="spacingAndGlyphs">1500</text><text x="836.1" y="1429.4" textLength="107.2" lengthAdjust="spacingAndGlyphs">2000</text><text x="1037.4" y="1429.4" textLength="107.2" lengthAdjust="spacingAndGlyphs">2500</text><text x="1238.7" y="1429.4" textLength="107.2" lengthAdjust="spacingAndGlyphs">3000</text><text x="1440.0" y="1429.4" textLength="107.2" lengthAdjust="spacingAndGlyphs">3500</text><text x="1641.3" y="1429.4" textLength="107.2" lengthAdjust="spacingAndGlyphs">4000</text><text x="1842.6" y="1429.4" textLength="107.2" lengthAdjust="spacingAndGlyphs">4500</text></g>
<g class="leg">
<line x1="1013" y1="100.8" x2="1159.5" y2="100.8" stroke="#000" stroke-width="7.2" stroke-linecap="round"/>
<line x1="1013" y1="181.7" x2="1159.5" y2="181.7" stroke="#ff0000" stroke-width="7.4" stroke-linecap="round"/>
<text x="1176.8" y="123.0">Experimental Curve</text>
<text x="1176.8" y="203.6">Simulated Curve</text>
</g>
<text x="669" y="1543.2" font-size="65">Wavenumber (cm<tspan font-size="44" dy="-30" dx="1">−1</tspan><tspan dy="30" dx="1">)</tspan></text>
</svg>
</body></html>
